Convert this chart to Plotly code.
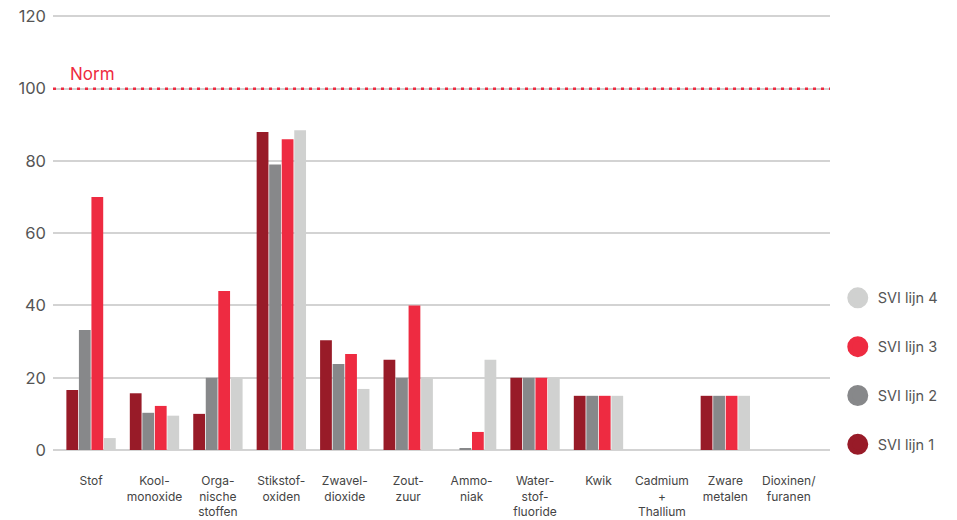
import plotly.graph_objects as go

categories = ["Stof", "Kool-<br>monoxide", "Orga-<br>nische<br>stoffen", "Stikstof-<br>oxiden",
              "Zwavel-<br>dioxide", "Zout-<br>zuur", "Ammo-<br>niak", "Water-<br>stof-<br>fluoride",
              "Kwik", "Cadmium<br>+<br>Thallium", "Zware<br>metalen", "Dioxinen/<br>furanen"]
lijn1 = [16.6, 15.7, 10, 88, 30.4, 25, 0, 20, 15, 0, 15, 0]
lijn2 = [33.2, 10.3, 20, 79, 23.8, 20, 0.3, 20, 15, 0, 15, 0]
lijn3 = [70, 12.2, 44, 86, 26.6, 40, 5, 20, 15, 0, 15, 0]
lijn4 = [3.3, 9.5, 20, 88.5, 16.9, 20, 25, 20, 15, 0, 15, 0]
series_names = ["SVI lijn 1", "SVI lijn 2", "SVI lijn 3", "SVI lijn 4"]
series_values = [lijn1, lijn2, lijn3, lijn4]
colors = ["#981B28", "#87888A", "#EE2B41", "#D0D1D0"]
norm_value = 100
y_ticks = [0, 20, 40, 60, 80, 100, 120]

FONT = "Inter, 'Open Sans', sans-serif"

fig = go.Figure()
for name, vals, col in zip(series_names, series_values, colors):
    fig.add_trace(go.Bar(x=categories, y=vals, name=name, marker=dict(color=col, line=dict(width=0)),
                         showlegend=False))
# legend entries (top to bottom: lijn 4 .. lijn 1)
for name, col in reversed(list(zip(series_names, colors))):
    fig.add_trace(go.Scatter(x=[None], y=[None], mode="markers", name=name, legendgroup=name,
                             marker=dict(symbol="circle", size=16, color=col, line=dict(color=col, width=5))))

fig.add_shape(type="line", xref="paper", x0=0, x1=1, yref="y", y0=norm_value, y1=norm_value,
              line=dict(color="#EE2B41", width=2.5, dash="3px,5px"), layer="above")
fig.add_annotation(text="Norm", xref="paper", x=0.019, xanchor="left", yref="y", y=norm_value,
                   yanchor="bottom", yshift=3, showarrow=False,
                   font=dict(family=FONT, size=17, color="#EE2B41"))

fig.update_layout(
    width=957, height=520,
    margin=dict(l=53, r=127, t=15, b=70, autoexpand=False),
    paper_bgcolor="white", plot_bgcolor="white",
    barmode="group", bargap=0.21, bargroupgap=0.06,
    font=dict(family=FONT, color="#555555"),
    legend=dict(x=1.01, xanchor="left", y=-0.025, yanchor="bottom", traceorder="grouped",
                tracegroupgap=27, font=dict(family=FONT, size=14.5, color="#555555"),
                itemclick=False),
    xaxis=dict(range=[-0.6, 11.65], showgrid=False, showline=False, zeroline=False, automargin=False,
               ticks="", ticklabelstandoff=22, tickfont=dict(family=FONT, size=12, color="#444444"),
               tickangle=0),
    yaxis=dict(range=[0, 120.4], tickvals=y_ticks, showgrid=True, gridcolor="#D3D3D3", gridwidth=2,
               zeroline=True, zerolinecolor="#D3D3D3", zerolinewidth=2, showline=False, automargin=False,
               ticklabeloverflow="allow",
               ticks="", ticklabelstandoff=6, tickfont=dict(family=FONT, size=16.5, color="#555555")),
)

fig.write_html("out.html", config={"displayModeBar": False},
               post_script="document.body.style.margin='0';document.body.style.overflow='hidden';")
